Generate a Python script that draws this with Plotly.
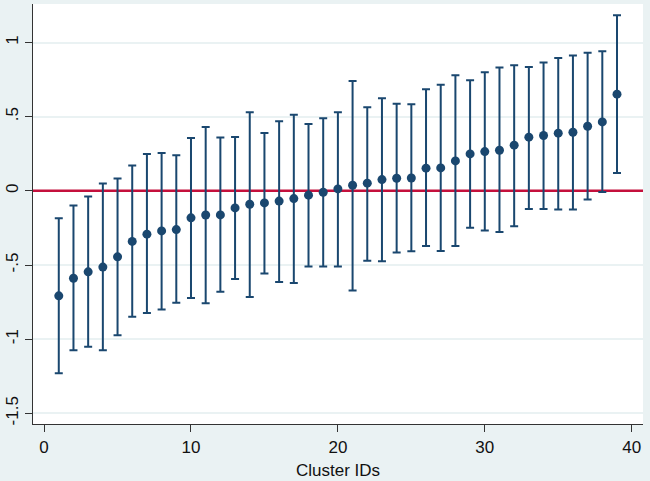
import plotly.graph_objects as go

cluster_ids = list(range(1, 40))
estimates = [-0.708, -0.589, -0.546, -0.514, -0.445, -0.341, -0.292, -0.270, -0.261, -0.182,
             -0.163, -0.162, -0.115, -0.090, -0.081, -0.069, -0.052, -0.029, -0.009, 0.013,
             0.038, 0.052, 0.076, 0.085, 0.087, 0.153, 0.155, 0.202, 0.249, 0.265,
             0.274, 0.308, 0.362, 0.373, 0.389, 0.395, 0.436, 0.465, 0.652]
lower = [-1.229, -1.074, -1.051, -1.074, -0.973, -0.849, -0.824, -0.800, -0.755, -0.723,
         -0.757, -0.681, -0.595, -0.716, -0.557, -0.615, -0.622, -0.510, -0.510, -0.510,
         -0.672, -0.472, -0.474, -0.416, -0.407, -0.371, -0.405, -0.371, -0.248, -0.267,
         -0.278, -0.238, -0.123, -0.123, -0.126, -0.126, -0.058, -0.007, 0.121]
upper = [-0.184, -0.099, -0.038, 0.049, 0.083, 0.171, 0.249, 0.256, 0.240, 0.357,
         0.431, 0.360, 0.364, 0.530, 0.391, 0.470, 0.514, 0.451, 0.490, 0.530,
         0.741, 0.564, 0.625, 0.588, 0.584, 0.685, 0.716, 0.780, 0.746, 0.800,
         0.831, 0.847, 0.836, 0.865, 0.896, 0.912, 0.932, 0.941, 1.184]

x_ticks = [0, 10, 20, 30, 40]
y_ticks = [-1.5, -1, -0.5, 0, 0.5, 1]
y_tick_labels = ["-1.5", "-1", "-.5", "0", ".5", "1"]
x_range = [-0.755, 40.77]
y_range = [-1.572, 1.26]
ref_value = 0

navy = "#1a476f"
bg = "#eaf2f3"

fig = go.Figure()
fig.add_trace(go.Scatter(
    x=x_range, y=[ref_value, ref_value], mode="lines",
    line=dict(color="#c4103c", width=2.5), hoverinfo="skip", showlegend=False,
))
fig.add_trace(go.Scatter(
    x=cluster_ids, y=estimates, mode="markers",
    marker=dict(color=navy, size=9),
    error_y=dict(type="data", symmetric=False,
                 array=[u - e for u, e in zip(upper, estimates)],
                 arrayminus=[e - l for e, l in zip(estimates, lower)],
                 color=navy, thickness=2, width=4),
    showlegend=False,
))

fig.update_layout(
    width=650, height=481,
    margin=dict(l=33, r=7, t=4, b=57),
    paper_bgcolor=bg, plot_bgcolor="white",
    font=dict(family="Liberation Sans, Arial, sans-serif", size=17, color="#111111"),
    xaxis=dict(range=x_range, tickvals=x_ticks, showgrid=False, zeroline=False,
               showline=True, linecolor="#333333", linewidth=1.2,
               ticks="outside", ticklen=7, tickcolor="#333333", tickwidth=1.2,
               title=dict(text="Cluster IDs", font=dict(size=17), standoff=8)),
    yaxis=dict(range=y_range, tickvals=y_ticks, ticktext=y_tick_labels,
               tickangle=-90, showgrid=True, gridcolor=bg, gridwidth=2, zeroline=False,
               showline=True, linecolor="#333333", linewidth=1.2,
               ticks="outside", ticklen=7, tickcolor="#333333", tickwidth=1.2),
)

fig.write_html("out.html", config={"displayModeBar": False},
               post_script="document.body.style.margin='0';document.body.style.overflow='hidden';")
